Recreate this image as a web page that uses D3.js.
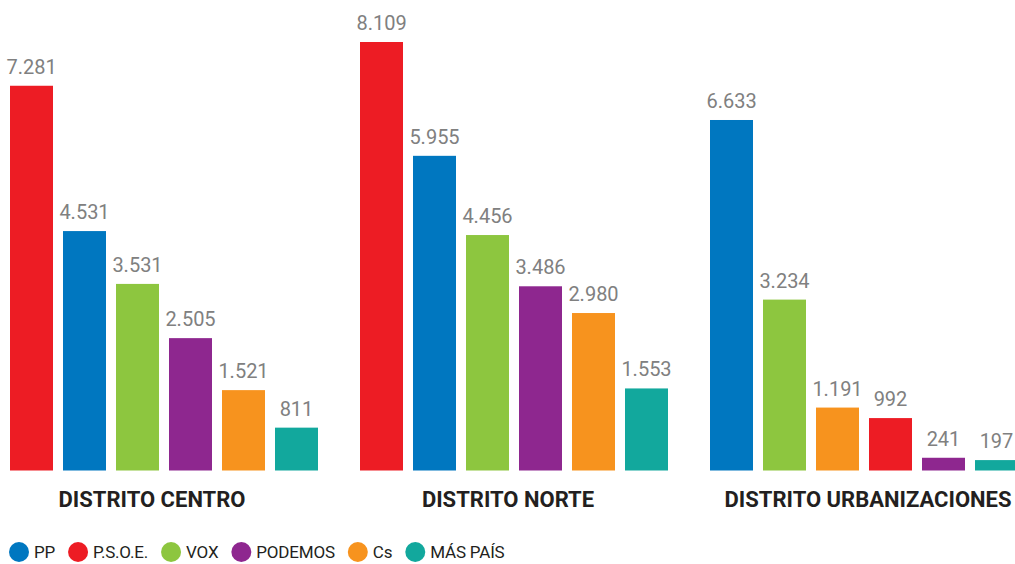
<!DOCTYPE html>
<html>
<head>
<meta charset="utf-8">
<script src="https://cdn.jsdelivr.net/npm/d3@7"></script>
<style>
  body { margin: 0; background: #fff; }
  svg { display: block; font-family: "Roboto", "Liberation Sans", sans-serif; }
  .value { fill: #808080; font-size: 20px; }
  .district { fill: #231f20; font-size: 22px; font-weight: bold; }
  .legend-text { fill: #231f20; font-size: 17px; letter-spacing: -0.2px; }
</style>
</head>
<body>
<svg width="1015" height="564"></svg>
<script>
// parties and their colours
var parties = ['PP', 'P.S.O.E.', 'VOX', 'PODEMOS', 'Cs', 'MÁS PAÍS'];
var partyColors = ['#0077c0', '#ed1c24', '#8dc63f', '#8e278f', '#f7931e', '#12a89d'];

var districts = ['DISTRITO CENTRO', 'DISTRITO NORTE', 'DISTRITO URBANIZACIONES'];

// bars in each district, in drawing order
var centroParties = ['P.S.O.E.', 'PP', 'VOX', 'PODEMOS', 'Cs', 'MÁS PAÍS'];
var centroVotes = [7281, 4531, 3531, 2505, 1521, 811];

var norteParties = ['P.S.O.E.', 'PP', 'VOX', 'PODEMOS', 'Cs', 'MÁS PAÍS'];
var norteVotes = [8109, 5955, 4456, 3486, 2980, 1553];

var urbParties = ['PP', 'VOX', 'Cs', 'P.S.O.E.', 'PODEMOS', 'MÁS PAÍS'];
var urbVotes = [6633, 3234, 1191, 992, 241, 197];

var svg = d3.select('svg');

var groups = [
    { key: districts[0], parties: centroParties, votes: centroVotes },
    { key: districts[1], parties: norteParties, votes: norteVotes },
    { key: districts[2], parties: urbParties, votes: urbVotes }
];

var color = d3.scaleOrdinal().domain(parties).range(partyColors);
var es = d3.formatLocale({ decimal: ',', thousands: '.', grouping: [3], currency: ['', ' €'] });
var fmt = es.format(',d');

var x0 = d3.scaleBand()
    .domain(districts)
    .range([10, 1018])
    .paddingInner(0.12)
    .paddingOuter(0);

var x1 = d3.scaleBand()
    .domain(d3.range(6))
    .range([0, x0.bandwidth()])
    .paddingInner(10 / 53)
    .paddingOuter(0);

var y = d3.scaleLinear()
    .domain([0, 8109])
    .range([470.5, 42]);

var g = svg.selectAll('.district-group')
    .data(groups)
    .enter()
    .append('g')
    .attr('class', 'district-group')
    .attr('transform', d => 'translate(' + x0(d.key) + ',0)');

var bars = g.selectAll('.bar')
    .data(d => d.votes.map((v, i) => ({ party: d.parties[i], value: v, i: i })))
    .enter();

bars.append('rect')
    .attr('class', 'bar')
    .attr('x', d => x1(d.i))
    .attr('width', x1.bandwidth())
    .attr('y', d => y(d.value))
    .attr('height', d => y(0) - y(d.value))
    .attr('fill', d => color(d.party));

bars.append('text')
    .attr('class', 'value')
    .attr('x', d => x1(d.i) + x1.bandwidth() / 2)
    .attr('y', d => y(d.value) - 12)
    .attr('text-anchor', 'middle')
    .text(d => fmt(d.value));

// district names sit a little left of centre in the first two groups
var labelShift = [-12, -6, 4];
g.append('text')
    .attr('class', 'district')
    .attr('x', (d, i) => x0.bandwidth() / 2 + labelShift[i])
    .attr('y', 507)
    .attr('text-anchor', 'middle')
    .text(d => d.key);

// legend, laid out left to right by text width
var legend = svg.append('g').attr('class', 'legend');
var lx = 19;
parties.forEach(function (p) {
    legend.append('circle')
        .attr('cx', lx)
        .attr('cy', 552)
        .attr('r', 10)
        .attr('fill', color(p));
    var t = legend.append('text')
        .attr('class', 'legend-text')
        .attr('x', lx + 15)
        .attr('y', 558)
        .text(p);
    lx += 15 + t.node().getComputedTextLength() + 23;
});
</script>
</body>
</html>
